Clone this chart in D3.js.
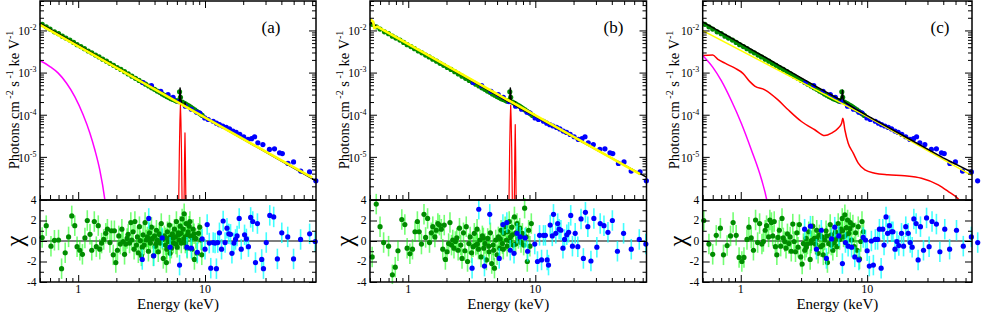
<!DOCTYPE html>
<html><head><meta charset="utf-8">
<script src="https://cdn.jsdelivr.net/npm/d3@7"></script>
<style>
body{margin:0;background:#fff}
svg{display:block;background:#fff}
</style>
</head><body>
<svg id="chart" width="981" height="312"></svg>
<script>
// ---------- DATA ----------
// unfolded spectrum, XMM (green) : energy keV, flux photons/cm2/s/keV
const xmmE = [0.52,0.56,0.6,0.65,0.7,0.75,0.8,0.86,0.92,0.98,1.05,1.12,1.2,1.28,1.37,1.46,1.56,1.67,1.78,1.9,2.03,2.17,2.32,2.48,2.65,2.83,3.02,3.2,3.4,3.6,3.8,4.0,4.2,4.4,4.6,4.8,5.0,5.2,5.4,5.6,5.8,6.0,6.2,6.3,6.4,6.6,6.8,7.0,7.25,7.5,7.75,8.0,8.3,8.6,8.9,9.2,9.5];
const xmmF = [1.40e-2,1.22e-2,1.08e-2,9.3e-3,8.4e-3,7.3e-3,6.6e-3,5.9e-3,5.2e-3,4.6e-3,4.15e-3,3.7e-3,3.25e-3,2.95e-3,2.6e-3,2.36e-3,2.08e-3,1.87e-3,1.66e-3,1.49e-3,1.32e-3,1.19e-3,1.05e-3,9.3e-4,8.2e-4,7.3e-4,6.5e-4,5.9e-4,5.3e-4,4.8e-4,4.35e-4,4.0e-4,3.65e-4,3.4e-4,3.1e-4,2.9e-4,2.7e-4,2.55e-4,2.4e-4,2.3e-4,2.2e-4,2.1e-4,2.15e-4,3.5e-4,2.6e-4,2.0e-4,1.9e-4,1.8e-4,1.7e-4,1.6e-4,1.5e-4,1.4e-4,1.3e-4,1.2e-4,1.12e-4,1.04e-4,9.6e-5];
// unfolded spectrum, NuSTAR (blue)
const nuE = [3.25,3.78,4.48,5.11,5.6,6.2,7.0,7.8,8.6,9.1,9.95,10.6,11.6,12.3,13.0,13.8,14.7,15.6,16.6,17.6,18.8,20.2,21.8,23.3,24.6,26.1,28.6,32.2,35.3,38.7,40.7,45.1,49.9,56.8,66.7,74.8];
const nuF = [5.8e-4,4.9e-4,3.6e-4,3.0e-4,2.6e-4,2.05e-4,1.6e-4,1.35e-4,1.15e-4,1.1e-4,8.4e-5,7.7e-5,7.0e-5,6.3e-5,5.8e-5,5.4e-5,5.0e-5,4.6e-5,4.1e-5,3.8e-5,3.4e-5,3.0e-5,2.6e-5,2.7e-5,3.0e-5,2.15e-5,1.96e-5,1.5e-5,1.55e-5,1.25e-5,1.2e-5,7.0e-6,7.6e-6,4.6e-6,4.4e-6,2.7e-6];

// residuals [energy, chi]
const resA_xmm = [[0.52,0.33],[0.56,1.5],[0.61,-0.5],[0.65,0.07],[0.70,0.1],[0.74,-2.7],[0.79,-1.15],[0.84,0.4],[0.89,2.45],[0.94,1.5],[0.98,-0.55],[1.03,-0.9],[1.08,-1.3],[1.13,0.3],[1.18,2.0],[1.24,0.65],[1.28,-0.9],[1.34,1.9],[1.39,-0.55],[1.44,1.5],[1.48,-0.8],[1.53,-0.2],[1.59,0.15],[1.65,0.75],[1.70,1.15],[1.78,-0.15],[1.83,1.0],[1.89,-1.35],[1.93,1.0],[1.98,-2.1],[2.04,-0.9],[2.09,0.5],[2.15,-0.3],[2.21,1.15],[2.26,-0.05],[2.32,-1.3],[2.37,-0.3],[2.43,0.25],[2.48,0.65],[2.54,-0.2],[2.60,1.8],[2.64,0.1],[2.71,0.9],[2.76,-0.8],[2.80,1.9],[2.88,-0.4],[2.93,0.4],[2.98,-1.15],[3.04,1.4],[3.09,0.03],[3.15,-1.45],[3.2,-0.6],[3.25,0.6],[3.31,-0.4],[3.37,1.8],[3.44,0.1],[3.51,0.4],[3.58,-1.0],[3.6,0.2],[3.65,0.8],[3.71,-0.2],[3.78,1.35],[3.85,0.25],[3.92,-1.45],[4.0,0.5],[4.06,-0.5],[4.1,-0.3],[4.14,1.05],[4.21,0.1],[4.28,-1.05],[4.36,0.7],[4.4,0.6],[4.44,-0.2],[4.52,1.7],[4.61,0.15],[4.69,-1.7],[4.78,0.5],[4.87,-0.4],[4.9,0.3],[4.96,-2.1],[5.0,-0.8],[5.05,0.9],[5.14,-0.05],[5.24,1.55],[5.3,-1.2],[5.33,0.4],[5.43,-0.7],[5.53,0.7],[5.6,0.3],[5.63,-0.2],[5.74,1.15],[5.84,0.4],[5.9,-0.3],[5.95,1.9],[6.03,-0.6],[6.14,0.8],[6.2,0.6],[6.25,0.1],[6.37,1.45],[6.48,0.75],[6.5,-0.2],[6.6,2.15],[6.72,1.15],[6.8,0.2],[6.85,2.65],[6.97,0.4],[7.0,-0.2],[7.1,1.7],[7.23,-0.7],[7.3,0.6],[7.36,0.9],[7.5,1.45],[7.6,1.9],[7.68,0.5],[7.87,-0.8],[7.9,0.3],[8.05,1.15],[8.2,0.7],[8.25,-1.8],[8.45,0.25],[8.66,-1.2],[8.87,0.75],[9.09,1.35],[9.31,0.1],[9.43,-1.35]];
const resA_nu = [[3.2,-1.8],[3.6,2.2],[3.94,-1.45],[4.6,0.3],[5.3,-0.6],[6.3,-2.35],[7.2,-0.6],[7.8,-0.7],[8.7,-1.1],[9.5,0.2],[10.0,-0.8],[10.4,1.6],[10.8,-0.2],[11.1,-2.65],[11.6,-0.15],[12.0,-0.2],[12.3,-2.7],[12.6,-0.15],[13.0,0.8],[13.5,-0.8],[13.9,1.95],[14.4,-0.15],[14.9,1.25],[15.4,0.7],[15.9,0.65],[16.3,-1.2],[16.9,-0.2],[17.4,0.15],[17.9,0.5],[18.6,2.2],[19.3,-0.8],[20.5,0.6],[21.2,0.2],[22.0,-0.55],[22.9,2.3],[23.8,1.9],[25.0,-2.1],[25.9,1.7],[28.0,-1.8],[28.9,-2.7],[30.4,-0.15],[32.4,2.5],[34.8,2.35],[37.2,-1.75],[40.3,0.8],[44.9,0.4],[49.9,-1.75],[56.7,0.15],[66.8,0.7],[73.9,-0.05]];

const resB_xmm = [[0.52,-1.55],[0.56,3.6],[0.6,1.4],[0.64,-0.15],[0.70,-0.5],[0.75,-3.3],[0.79,-2.55],[0.83,-0.95],[0.89,2.1],[0.94,1.6],[0.98,-0.7],[1.03,-1.25],[1.08,-0.8],[1.13,0.9],[1.18,1.9],[1.22,0.9],[1.27,-0.3],[1.33,2.6],[1.37,0.35],[1.42,2.2],[1.47,-0.15],[1.52,0.8],[1.56,1.4],[1.62,0.4],[1.66,1.05],[1.71,1.7],[1.76,1.55],[1.82,1.15],[1.87,-0.8],[1.92,1.55],[1.96,-1.8],[2.02,-1.05],[2.08,-0.25],[2.13,1.8],[2.19,-0.4],[2.24,0.1],[2.29,-0.7],[2.35,-0.05],[2.41,0.3],[2.47,-0.9],[2.53,1.25],[2.59,-0.4],[2.65,-1.7],[2.72,0.8],[2.79,-0.95],[2.86,1.4],[2.93,-2.0],[3.0,-0.25],[3.07,0.4],[3.15,-1.15],[3.24,-0.55],[3.31,0.75],[3.4,-0.4],[3.48,1.15],[3.5,-0.3],[3.57,-0.8],[3.66,0.1],[3.74,-1.55],[3.83,0.5],[3.9,0.3],[3.93,-0.7],[4.02,-0.25],[4.12,-1.85],[4.22,0.25],[4.3,-0.5],[4.33,-1.05],[4.43,0.8],[4.54,-2.2],[4.65,-0.4],[4.7,-0.9],[4.77,-2.65],[4.88,0.1],[5.0,-1.35],[5.12,0.4],[5.25,-0.7],[5.3,0.2],[5.38,1.05],[5.51,-0.25],[5.6,-0.8],[5.65,0.75],[5.79,1.4],[5.93,0.1],[6.0,-0.5],[6.08,0.9],[6.23,1.9],[6.3,0.0],[6.37,0.4],[6.53,1.35],[6.6,0.6],[6.69,-0.4],[6.85,2.35],[7.0,-0.3],[7.02,0.8],[7.18,1.7],[7.36,0.25],[7.4,1.0],[7.54,1.25],[7.72,-0.15],[7.8,0.5],[7.91,0.75],[8.1,-0.4],[8.24,3.2],[8.45,0.4],[8.65,-2.0],[8.86,1.05],[9.07,-0.5],[9.3,1.7]];
const resB_nu = [[3.18,-2.65],[3.59,3.1],[3.98,-2.45],[4.38,2.6],[5.2,-1.7],[5.56,1.6],[5.97,1.8],[6.35,-0.9],[6.8,-1.2],[7.18,0.75],[7.6,0.4],[8.3,0.3],[8.7,-1.0],[9.9,-0.3],[10.4,-2.0],[10.8,0.55],[11.2,-1.85],[11.6,0.55],[12.0,0.55],[12.4,-1.85],[12.7,-2.35],[13.1,1.55],[13.6,0.5],[13.9,2.6],[14.5,0.75],[15.0,1.7],[15.4,1.15],[15.9,1.05],[16.5,-0.7],[17.0,0.15],[17.7,0.6],[18.3,0.85],[19.0,2.5],[19.6,-0.5],[20.6,0.75],[21.6,-0.55],[22.9,2.15],[23.9,-1.7],[24.8,2.8],[25.9,1.4],[27.4,-1.95],[28.9,2.2],[30.5,-0.6],[32.4,1.7],[34.7,1.5],[37.3,0.85],[40.4,2.0],[44.3,-1.0],[49.5,0.75],[56.9,-0.8],[65.8,0.15],[74.1,-0.3]];

const resC_xmm = [[0.51,2.0],[0.56,-0.3],[0.6,-1.3],[0.64,0.55],[0.69,1.25],[0.73,-1.35],[0.78,-0.45],[0.83,0.5],[0.87,1.8],[0.92,0.55],[0.97,-1.6],[1.02,-2.0],[1.06,-1.6],[1.12,0.15],[1.16,1.35],[1.21,0.3],[1.26,-0.9],[1.31,2.05],[1.36,-0.15],[1.41,1.7],[1.47,-0.3],[1.51,-0.05],[1.56,1.05],[1.6,1.5],[1.66,0.4],[1.7,2.05],[1.75,1.8],[1.79,0.5],[1.84,1.9],[1.88,-0.55],[1.93,-1.35],[1.97,0.35],[2.02,1.05],[2.07,-0.5],[2.12,2.2],[2.17,0.3],[2.23,-0.05],[2.28,-0.7],[2.34,0.7],[2.4,-0.25],[2.46,0.4],[2.51,-1.0],[2.58,1.65],[2.64,-0.05],[2.71,-1.05],[2.78,0.8],[2.84,-0.6],[2.91,1.6],[2.98,-1.55],[3.06,-2.25],[3.13,-0.25],[3.21,-0.9],[3.29,0.25],[3.3,-0.6],[3.37,-0.3],[3.45,0.9],[3.54,-1.8],[3.6,-0.2],[3.62,0.03],[3.71,1.45],[3.81,0.25],[3.9,-0.3],[3.99,1.05],[4.0,0.3],[4.09,-1.2],[4.19,0.6],[4.29,-0.55],[4.4,0.4],[4.45,-0.4],[4.5,-1.35],[4.62,0.1],[4.73,1.0],[4.8,0.5],[4.85,-2.1],[4.97,-0.25],[5.1,1.6],[5.2,-0.4],[5.22,0.6],[5.35,-0.9],[5.49,-0.15],[5.6,0.2],[5.62,0.9],[5.76,-0.55],[5.9,1.7],[6.0,0.7],[6.05,0.15],[6.2,1.15],[6.35,2.2],[6.4,1.0],[6.51,0.4],[6.66,2.55],[6.83,1.3],[6.9,0.6],[7.0,2.05],[7.17,0.75],[7.3,1.2],[7.35,1.8],[7.53,0.1],[7.71,1.55],[7.9,-0.55],[8.1,0.8],[8.3,-0.9],[8.5,1.4],[8.7,-1.75],[8.9,-0.05],[9.1,1.9],[9.35,0.9]];
const resC_nu = [[3.2,1.15],[3.56,1.45],[3.97,-0.8],[4.34,1.05],[4.76,-1.7],[5.22,0.2],[5.54,1.35],[5.96,0.5],[6.37,-2.2],[6.73,-0.15],[7.07,-0.5],[7.53,-0.6],[7.98,-1.55],[8.6,-1.85],[9.3,0.35],[9.7,0.1],[10.0,-0.95],[10.4,-2.45],[10.8,0],[11.2,-2.35],[11.6,0.15],[12.1,0.15],[12.5,1.15],[12.9,-2.65],[13.3,1.15],[13.6,-0.4],[14.1,2.35],[14.5,0.75],[15.0,1.5],[15.6,0.9],[16.0,0.9],[16.6,-0.8],[17.2,-0.05],[17.8,-0.45],[18.7,0.75],[19.4,-0.5],[20.2,1.4],[21.1,0.75],[21.9,-0.15],[22.7,-0.6],[23.4,2.15],[24.4,1.7],[25.3,-1.85],[26.4,1.4],[27.9,-0.9],[29.5,2.25],[30.9,-0.55],[32.6,1.9],[35.3,1.65],[37.6,-1.05],[41.1,1.15],[44.9,-0.8],[50.9,1.05],[57.6,-0.5],[66.7,0.4],[74.9,-0.15]];

// model curves [energy, flux]
const modelA_total = [[0.5,1.48e-2],[6.2,1.95e-4],[6.3,2.3e-4],[6.36,4.3e-4],[6.44,2.3e-4],[6.55,1.85e-4],[6.9,1.62e-4],[6.96,1.95e-4],[7.03,1.58e-4],[75,2.7e-6]];
const modelA_cont = [[0.5,1.36e-2],[70,3.2e-6]];
const modelA_lines = [[6.15,1e-7],[6.22,1.5e-6],[6.28,1.5e-5],[6.34,7e-5],[6.4,1.7e-4],[6.46,7e-5],[6.52,1.5e-5],[6.58,1.5e-6],[6.65,1e-7],[6.78,1e-7],[6.85,1.5e-6],[6.9,1e-5],[6.95,3.7e-5],[7.0,1e-5],[7.05,1.5e-6],[7.12,1e-7]];
const modelA_bb = [[0.5,1.92e-3],[0.506,1.89e-3],[0.599,1.39e-3],[0.696,9.7e-4],[0.81,5.6e-4],[0.94,2.7e-4],[1.094,1.0e-4],[1.236,3.7e-5],[1.353,1.47e-5],[1.48,4.9e-6],[1.62,1e-6],[1.7,3e-7]];

const modelB_total = [[0.5,1.55e-2],[6.2,2.0e-4],[6.3,2.35e-4],[6.36,4.3e-4],[6.44,2.35e-4],[6.55,1.9e-4],[6.9,1.65e-4],[6.96,2.0e-4],[7.03,1.62e-4],[75,3.3e-6]];
const modelB_cont = [[0.5,1.84e-2],[0.53,1.6e-2],[0.54,1.13e-2],[0.57,1.23e-2],[66.7,3.9e-6]];
const modelB_lines = [[6.15,1e-7],[6.22,1.5e-6],[6.28,1.5e-5],[6.34,7e-5],[6.4,1.7e-4],[6.46,7e-5],[6.52,1.5e-5],[6.58,1.5e-6],[6.65,1e-7],[6.78,1e-7],[6.85,1.5e-6],[6.9,1.4e-5],[6.95,5.8e-5],[7.0,1.4e-5],[7.05,1.5e-6],[7.12,1e-7]];

const modelC_total = [[0.5,1.6e-2],[1,4.95e-3],[2,1.51e-3],[4,4.6e-4],[6.15,2.25e-4],[6.3,2.6e-4],[6.38,3.8e-4],[6.45,2.4e-4],[6.6,2.05e-4],[7,1.8e-4],[8,1.4e-4],[10,9.5e-5],[20,3.0e-5],[40,9.5e-6],[67.5,4.3e-6]];
const modelC_cont = [[0.5,9.9e-3],[10,9.0e-5],[67.5,3.6e-6]];
const modelC_refl = [[0.5,2.53e-3],[0.6,2.6e-3],[0.66,2.07e-3],[0.75,1.67e-3],[0.9,1.27e-3],[1.04,9.6e-4],[1.18,6.1e-4],[1.29,4.8e-4],[1.55,3.9e-4],[1.97,2.25e-4],[2.37,1.31e-4],[3.02,6.9e-5],[3.85,4.4e-5],[4.62,3.2e-5],[5.22,3.66e-5],[5.89,4.8e-5],[6.28,6.3e-5],[6.42,8.3e-5],[6.66,4.4e-5],[7.08,2.1e-5],[7.76,1.23e-5],[8.5,7.1e-6],[9.6,4.9e-6],[11.5,4.1e-6],[14.6,3.75e-6],[19.8,3.55e-6],[26.9,3.1e-6],[36.5,2.17e-6],[43.9,1.5e-6],[52.6,1.0e-6],[56,8e-7]];
const modelC_bb = [[0.5,2.55e-3],[0.6,1.35e-3],[0.7,6.5e-4],[0.84,2.2e-4],[1.01,6.3e-5],[1.21,1.5e-5],[1.46,2.9e-6],[1.6,1e-6],[1.65,6e-7]];

const yTickExp = [-2,-3,-4,-5];
const resTicks = [4,2,0,-2,-4];
const xTickLabels = [1,10];
const panelLabels = ["(a)","(b)","(c)"];

// ---------- DRAW ----------
const FONT = '"Liberation Serif", "Times New Roman", Tinos, serif';
const svg = d3.select("#chart");
const C = {green:"#008b00", blue:"#0000ff", lgreen:"#00ff00", cyan:"#00ffff",
           yellow:"#ffff00", red:"#ff0000", magenta:"#ff00ff", black:"#000"};

const panels = [
  {key:"a", left:40, right:316, xmax:75, labelX:271, titleOff:21.5,
   res:[resA_xmm,resA_nu],
   models:[{d:modelA_total,c:C.black,w:1.5},{d:modelA_cont,c:C.yellow,w:2.6},
           {d:modelA_lines,c:C.red,w:1.2},{d:modelA_bb,c:C.magenta,w:1.5,curve:true}]},
  {key:"b", left:370, right:646.5, xmax:75, labelX:613.5, titleOff:21.5,
   res:[resB_xmm,resB_nu],
   models:[{d:modelB_total,c:C.black,w:1.5},{d:modelB_cont,c:C.yellow,w:2.6},
           {d:modelB_lines,c:C.red,w:1.2}]},
  {key:"c", left:702.7, right:972, xmax:67.5, labelX:940, titleOff:24.2,
   res:[resC_xmm,resC_nu],
   models:[{d:modelC_cont,c:C.yellow,w:1.6},{d:modelC_total,c:C.black,w:1.5},
           {d:modelC_refl,c:C.red,w:1.5,curve:true},{d:modelC_bb,c:C.magenta,w:1.5,curve:true}]}
];

const UT=1, UB=199, RT=200, RB=282;

function xMinor(xmax){
  const t=[];
  [0.1,1,10].forEach(dec=>{for(let k=2;k<10;k++){const v=k*dec; if(v>=0.5-1e-9 && v<=xmax) t.push(v);}});
  return t;
}

panels.forEach((p,i)=>{
  const x = d3.scaleLog().domain([0.5,p.xmax]).range([p.left,p.right]);
  const yU = d3.scaleLog().domain([1e-6,0.05]).range([UB,UT]);
  const yR = d3.scaleLinear().domain([-4,4]).range([RB,RT]);
  const g = svg.append("g");
  const clipId="clip"+p.key;
  svg.append("clipPath").attr("id",clipId).append("rect")
    .attr("x",p.left).attr("y",UT).attr("width",p.right-p.left).attr("height",UB-UT);

  // ---- upper data
  g.append("g").selectAll("circle").data(d3.zip(xmmE,xmmF)).join("circle")
    .attr("cx",d=>x(d[0])).attr("cy",d=>yU(d[1])).attr("r",2.6).attr("fill",C.green);
  g.append("g").selectAll("circle").data(d3.zip(nuE,nuF)).join("circle")
    .attr("cx",d=>x(d[0])).attr("cy",d=>yU(d[1])).attr("r",2.6).attr("fill",C.blue);

  // ---- models
  const mg = g.append("g").attr("clip-path",`url(#${clipId})`);
  p.models.forEach(m=>{
    const line = d3.line().x(d=>x(d[0])).y(d=>yU(d[1]));
    if(m.curve) line.curve(d3.curveMonotoneX);
    mg.append("path").attr("d",line(m.d)).attr("fill","none")
      .attr("stroke",m.c).attr("stroke-width",m.w).attr("stroke-linejoin","round");
  });

  // ---- residuals
  g.append("line").attr("x1",p.left).attr("x2",p.right).attr("y1",yR(0)).attr("y2",yR(0))
    .attr("stroke","#000").attr("stroke-width",1.2);
  const [rx,rn] = p.res;
  const drawRes=(data,ec,dc,eo)=>{
    g.append("g").selectAll("line").data(data).join("line")
      .attr("x1",d=>x(d[0])).attr("x2",d=>x(d[0]))
      .attr("y1",d=>yR(Math.max(-4.2,d[1]-1))).attr("y2",d=>yR(d[1]+1))
      .attr("stroke",ec).attr("stroke-width",1.6).attr("stroke-opacity",eo);
    g.append("g").selectAll("circle").data(data).join("circle")
      .attr("cx",d=>x(d[0])).attr("cy",d=>yR(d[1])).attr("r",2.6).attr("fill",dc);
  };
  drawRes(rx,C.lgreen,C.green,0.55);
  drawRes(rn,C.cyan,C.blue,0.75);

  // ---- frames
  const fr = g.append("g").attr("fill","none").attr("stroke","#000").attr("stroke-width",1.5);
  fr.append("rect").attr("x",p.left).attr("y",UT).attr("width",p.right-p.left).attr("height",UB-UT+1);
  fr.append("rect").attr("x",p.left).attr("y",RT).attr("width",p.right-p.left).attr("height",RB-RT);

  // ---- ticks via d3 axes (inward)
  const maj=[1,10].filter(v=>v<=p.xmax), mnr=xMinor(p.xmax);
  const yMaj=[1e-2,1e-3,1e-4,1e-5];
  const yMin=[]; [1e-6,1e-5,1e-4,1e-3,1e-2].forEach(d=>{for(let k=2;k<10;k++){const v=k*d; if(v<=0.05) yMin.push(v);}});
  const ax=(axisFn,scale,vals,size,tx,ty)=>{
    const a=g.append("g").attr("transform",`translate(${tx},${ty})`)
      .call(axisFn(scale).tickValues(vals).tickSize(-size).tickSizeOuter(0).tickFormat(""));
    a.select(".domain").remove();
    a.selectAll("line").attr("stroke","#000").attr("stroke-width",1);
    a.selectAll("text").remove();
  };
  // upper panel
  ax(d3.axisBottom,x,maj,7,0,UB); ax(d3.axisBottom,x,mnr,4,0,UB);
  ax(d3.axisTop,x,maj,7,0,UT); ax(d3.axisTop,x,mnr,4,0,UT);
  ax(d3.axisLeft,yU,yMaj,7,p.left,0); ax(d3.axisLeft,yU,yMin,4,p.left,0);
  ax(d3.axisRight,yU,yMaj,7,p.right,0); ax(d3.axisRight,yU,yMin,4,p.right,0);
  // residual panel
  ax(d3.axisBottom,x,maj,7,0,RB); ax(d3.axisBottom,x,mnr,4,0,RB);
  ax(d3.axisLeft,yR,[-4,-2,0,2,4],7,p.left,0); ax(d3.axisLeft,yR,[-3,-1,1,3],4,p.left,0);
  ax(d3.axisRight,yR,[-4,-2,0,2,4],7,p.right,0); ax(d3.axisRight,yR,[-3,-1,1,3],4,p.right,0);

  // ---- labels
  const T = (sel)=>sel.append("text").style("font-family",FONT).attr("fill","#000");
  yTickExp.forEach(e=>{
    const t=T(g).attr("x",p.left-3.5).attr("y",yU(Math.pow(10,e))+4.8)
      .attr("text-anchor","end").attr("font-size",11.5);
    t.append("tspan").text("10");
    t.append("tspan").attr("font-size",8).attr("dy",-5).text(String(e));
  });
  resTicks.forEach(v=>{
    T(g).attr("x",p.left-3.5).attr("y",yR(v)+3.8).attr("text-anchor","end")
      .attr("font-size",11.5).text(String(v));
  });
  xTickLabels.filter(v=>v<=p.xmax).forEach(v=>{
    T(g).attr("x",x(v)).attr("y",292.5).attr("text-anchor","middle")
      .attr("font-size",12).text(String(v));
  });
  T(g).attr("x",(p.left+p.right)/2).attr("y",308.5).attr("text-anchor","middle")
    .attr("font-size",15).text("Energy (keV)");
  T(g).attr("x",p.labelX).attr("y",32.5).attr("text-anchor","middle")
    .attr("font-size",17).text(panelLabels[i]);
  const yt=T(g).attr("transform",`translate(${p.left-p.titleOff},100) rotate(-90)`)
    .attr("text-anchor","middle").attr("font-size",14.5);
  yt.append("tspan").text("Photons cm");
  yt.append("tspan").attr("font-size",10).attr("dy",-6).text(" -2");
  yt.append("tspan").attr("dy",6).text("  s");
  yt.append("tspan").attr("font-size",10).attr("dy",-6).text(" -1");
  yt.append("tspan").attr("dy",6).text("  ke V");
  yt.append("tspan").attr("font-size",10).attr("dy",-6).text("-1");
  T(g).attr("transform",`translate(${p.left-17},241) rotate(-90)`)
    .attr("text-anchor","middle").attr("font-size",25).text("χ");
});
</script>
</body></html>
